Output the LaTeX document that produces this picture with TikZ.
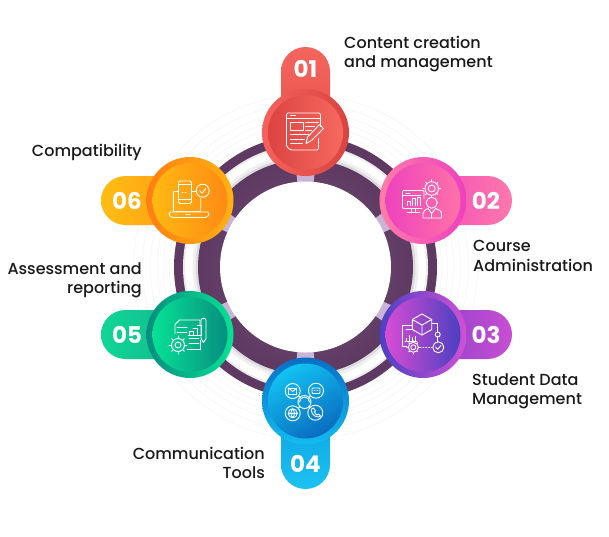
\documentclass[tikz,border=0pt]{standalone}
\usepackage{fontspec}
\setmainfont{Poppins}[UprightFont=* Medium,BoldFont=* Bold]
\usetikzlibrary{calc}
\definecolor{ringdark}{HTML}{5E3A62}
\definecolor{ringmid}{HTML}{76517C}
\definecolor{lav}{HTML}{C9B4D8}
\newcommand{\hx}[2]{\definecolor{#1}{HTML}{#2}}
\hx{ra}{F4655E}\hx{rb}{E8504C}\hx{rc}{F6625B}\hx{rd}{D94442}\hx{re}{DC4341}\hx{rf}{F6695F}
\hx{pa}{F04BB8}\hx{pb}{FF78AC}\hx{pc}{FF7DA8}\hx{pd}{EE3FC0}\hx{pe}{EE42BC}\hx{pf}{FF72A8}
\hx{va}{8A3FCB}\hx{vb}{C84FD2}\hx{vc}{4A40C4}\hx{vd}{D350D4}\hx{ve}{D84CD4}\hx{vf}{4A40C0}
\hx{ba}{0A9CDE}\hx{bb}{1CC2F2}\hx{bc}{0A6EC6}\hx{bd}{12BCF0}\hx{be}{12C2F2}\hx{bf}{0A6CC0}
\hx{ga}{10D696}\hx{gb}{12B58A}\hx{gc}{078E80}\hx{gd}{06E294}\hx{ge}{06E294}\hx{gf}{078E80}
\hx{oa}{FFBD12}\hx{ob}{FF9A14}\hx{oc}{FF7E12}\hx{od}{FFB212}\hx{oe}{FFB912}\hx{of}{FF8A14}
\tikzset{
  disc/.style={circle,minimum size=#1,inner sep=0pt,shade},
  tabbox/.style={rectangle,rounded corners=24.5pt,inner sep=0pt,shade},
  num/.style={text=white,font=\bfseries\fontsize{23}{23}\selectfont,inner sep=0pt},
  lab/.style={text=black!90,font=\fontsize{16}{19.5}\selectfont,inner sep=0pt},
  ico/.style={draw=white,line width=.9pt,line join=round,line cap=round},
  halo/.style={draw=black!5,line width=.4pt}
}
\begin{document}
\begin{tikzpicture}[x=1pt,y=-1pt]
\useasboundingbox (0,0) rectangle (609,536);
\fill[white] (0,0) rectangle (609,536);
\coordinate (c) at (305.5,267);
% faint rings
\foreach \r in {136,142,148,155,163,172}{\draw[halo] (c) circle[radius=\r];}
% rings
\fill[ringdark] (c) circle[radius=131.5];
\fill[black!8] (c) circle[radius=122.5];
\fill[white] (c) circle[radius=120.5];
\fill[black!6] (c) circle[radius=113];
\fill[black!14] (c) circle[radius=110];
\shade[inner color=ringmid,outer color=ringdark] (c) circle[radius=107.5];
\foreach \a in {-90,90,-29.5,29.5,150.5,209.5}{
  \fill[lav] ($(c)+(\a-5.5:85)$) -- ($(c)+(\a-5.5:96)$) arc[start angle=\a-5.5,end angle=\a+5.5,radius=96] -- ($(c)+(\a+5.5:85)$) -- cycle;
}
\fill[white] (c) circle[radius=85.5];
% tabs
\node[tabbox,top color=ra,bottom color=rb,minimum width=49pt,minimum height=90pt] (t1) at (305.5,92) {};
\node[tabbox,left color=pa,right color=pb,minimum width=90pt,minimum height=49pt] (t2) at (467,200.5) {};
\node[tabbox,left color=va,right color=vb,minimum width=90pt,minimum height=49pt] (t3) at (467,334.5) {};
\node[tabbox,top color=ba,bottom color=bb,minimum width=49pt,minimum height=90pt] (t4) at (305.5,444) {};
\node[tabbox,left color=ga,right color=gb,minimum width=90pt,minimum height=49pt] (t5) at (146,334.5) {};
\node[tabbox,left color=oa,right color=ob,minimum width=90pt,minimum height=49pt] (t6) at (146,200.5) {};
% discs
\node[disc=87pt,left color=rc,right color=rd] (d1o) at (305.5,132.5) {};
\node[disc=75pt,left color=re,right color=rf] (d1) at (305.5,132.5) {};
\node[disc=87pt,left color=pc,right color=pd] (d2o) at (423,200.5) {};
\node[disc=75pt,left color=pe,right color=pf] (d2) at (423,200.5) {};
\node[disc=87pt,left color=vc,right color=vd] (d3o) at (423,334.5) {};
\node[disc=75pt,left color=ve,right color=vf] (d3) at (423,334.5) {};
\node[disc=87pt,top color=bc,bottom color=bd] (d4o) at (305.5,401) {};
\node[disc=75pt,top color=be,bottom color=bf,shading angle=30] (d4) at (305.5,401) {};
\node[disc=87pt,left color=gc,right color=gd] (d5o) at (190,334.5) {};
\node[disc=75pt,left color=ge,right color=gf] (d5) at (190,334.5) {};
\node[disc=87pt,left color=oc,right color=od] (d6o) at (190,200.5) {};
\node[disc=75pt,left color=oe,right color=of] (d6) at (190,200.5) {};
% numbers
\node[num] (n1) at (305.5,68.5) {01};
\node[num] (n2) at (486,200.5) {02};
\node[num] (n3) at (486,334.5) {03};
\node[num] (n4) at (305.5,463.5) {04};
\node[num] (n5) at (127,334.5) {05};
\node[num] (n6) at (127,200.5) {06};
% labels
\node[lab,align=left,anchor=west] (l1) at (344,54) {Content creation\\and management};
\node[lab,align=left,anchor=west] (l2) at (473,256) {Course\\Administration};
\node[lab,align=left,anchor=west] (l3) at (472,391) {Student Data\\Management};
\node[lab,align=right,anchor=east] (l4) at (265,463) {Communication\\Tools};
\node[lab,align=right,anchor=east] (l5) at (142,280) {Assessment and\\reporting};
\node[lab,align=right,anchor=east] (l6) at (142,152) {Compatibility};
% icon 1
\begin{scope}[shift={(d1.center)},ico]
\draw[rounded corners=1.5pt] (15,-6) -- (15,-19.5) -- (-19,-19.5) -- (-19,14) -- (-15,17.5) -- (13,17.5) -- (13,6);
\draw (-19,-14) -- (15,-14);
\draw (-15,-17) -- (-10,-17);
\draw (-15,-10) rectangle (-2.5,-2);
\draw (0,-10) -- (13,-10) (0,-6) -- (9,-6) (0,-2) -- (6,-2);
\draw (-15,2) -- (3,2) (-15,6.5) -- (-1,6.5) (-15,11) -- (-3,11);
\draw (14,-8) -- (18,-4) -- (6,8) -- (0.5,11) -- (2,4.5) -- cycle;
\end{scope}
% icon 2
\begin{scope}[shift={(d2.center)},ico]
\draw[rounded corners=1pt] (1,-2) -- (1,-10) -- (-20.5,-10) -- (-20.5,8) -- (-1,8);
\draw (-20.5,-5) -- (-2,-5);
\draw (-17,-7.5) -- (-13,-7.5);
\draw (-16,5) -- (-16,1) -- (-13,1) -- (-13,5) (-11,5) -- (-11,-2) -- (-8,-2) -- (-8,5) (-6,5) -- (-6,-3) -- (-3,-3) -- (-3,5);
\draw (-12,8) -- (-12,12) (-8,8) -- (-8,12) (-16,12) -- (-3,12);
\draw (8.7,-12) circle[radius=3.5];
\draw (8.7,-12) circle[radius=6.8];
\foreach \a in {0,45,...,315}{\draw (8.7,-12)++(\a:6.8) -- ++(\a:2);}
\draw (8.7,2.2) circle[radius=5.5];
\draw (0,17.5) -- (0,13) .. controls (0,10) and (3,9) .. (5,8) -- (8.7,13) -- (12.5,8) .. controls (15,9) and (18.5,10) .. (18.5,13) -- (18.5,17.5) -- cycle;
\draw (8.7,13) -- (8.7,17.5);
\end{scope}
% icon 3
\begin{scope}[shift={(d3.center)},ico]
\draw (-11,-9.5) -- (-20.3,-9.5) -- (-20.3,12) -- (-16,12);
\draw (-17,-5) -- (-10,-5);
\draw (-17,4) -- (-17,7) (-14,1) -- (-14,7) (-11,3) -- (-11,7) (-8,2) -- (-8,7) (-18,7) -- (-6,7);
\draw (-1,-20.5) -- (8.7,-15) -- (8.7,-5) -- (-1,0.5) -- (-10.7,-5) -- (-10.7,-15) -- cycle;
\draw (-10.7,-15) -- (-1,-9.5) -- (8.7,-15) (-1,-9.5) -- (-1,0.5);
\draw (-9.7,12.8) circle[radius=2.5];
\draw (-9.7,12.8) circle[radius=5];
\foreach \a in {0,45,...,315}{\draw (-9.7,12.8)++(\a:5) -- ++(\a:1.5);}
\draw[dotted] (-3,12.8) -- (9,12.8);
\draw (15.3,12.8) circle[radius=5.5];
\draw (12.8,12.8) -- (14.8,14.8) -- (18,10.8);
\draw (9,-11.5) -- (14.7,-11.5) -- (14.7,-2.5) (14.7,2.5) -- (14.7,7.3);
\draw (14.7,0) circle[radius=2.5];
\end{scope}
% icon 4
\begin{scope}[shift={(d4.center)},ico]
\draw (-12.8,-10) circle[radius=7.5];
\draw (10.5,-10.3) circle[radius=7.5];
\draw (-12.8,12.3) circle[radius=7.5];
\draw (9.8,11.7) circle[radius=7.5];
\draw (-1,1) circle[radius=6.5];
\draw (-6,1) arc[start angle=180,end angle=360,radius=5];
\draw (-16.8,-13) rectangle (-8.8,-7);
\draw (-16.8,-13) -- (-12.8,-9.5) -- (-8.8,-13);
\draw[rounded corners=1pt] (6.5,-13) rectangle (14.5,-7.5);
\draw[dotted] (8.5,-10.3) -- (13,-10.3);
\draw (-12.8,12.3) circle[radius=4.5];
\draw (-17.3,12.3) -- (-8.3,12.3) (-12.8,7.8) .. controls (-15,10) and (-15,14.6) .. (-12.8,16.8) (-12.8,7.8) .. controls (-10.6,10) and (-10.6,14.6) .. (-12.8,16.8);
\draw (6,8) -- (8,7) -- (10,10) -- (9,11) .. controls (10,13) and (11,14) .. (12,14) -- (13,13) -- (15,15) -- (13,16) .. controls (9,16) and (5,12) .. (6,8);
\draw (-7,-5) -- (-5.5,-3.5) (5,-5) -- (3.5,-3.5) (-7,7) -- (-5.5,5.5) (5,6.5) -- (3.5,5);
\end{scope}
% icon 5
\begin{scope}[shift={(d5.center)},ico]
\draw (-15,-1) -- (-15,-10) -- (-10.5,-14.5) -- (10,-14.5) -- (10,-9);
\draw (10,6) -- (10,15) -- (-3,15);
\draw (-13,-7) -- (-3,-7) (-13,-2.5) -- (-3,-2.5);
\draw (-1,1) -- (-1,-3) -- (3,-3) -- (3,1) (3,-6) -- (7,-6) -- (7,1) (7,-9) -- (11,-9) -- (11,1) (-2,1) -- (11,1);
\draw (-1,4) -- (9,4) (-1,9) -- (9,9);
\draw (11,-14) .. controls (11,-17) and (16,-17) .. (16,-14) -- (16,4) -- (13.5,8) -- (11,4) -- cycle;
\draw (-12,10.5) circle[radius=3];
\draw (-12,10.5) circle[radius=6.5];
\foreach \a in {0,45,...,315}{\draw (-12,10.5)++(\a:6.5) -- ++(\a:2.5);}
\end{scope}
% icon 6
\begin{scope}[shift={(d6.center)},ico]
\draw[rounded corners=1pt] (-11.5,-9) -- (-16.7,-9) -- (-16.7,11) -- (10.7,11) -- (10.7,-2);
\draw[rounded corners=1.5pt] (-21,11.5) -- (19,11.5) -- (19,15) -- (16,17) -- (-18,17) -- (-21,15) -- cycle;
\draw[rounded corners=1.5pt] (-11.5,-19.5) rectangle (1.5,3);
\draw (-11.5,-16) -- (1.5,-16) (-11.5,-1) -- (1.5,-1);
\draw[dotted,line width=1pt] (-8,-8) -- (-2,-8);
\draw (12.7,-9.8) circle[radius=6.5];
\draw (9.7,-9.8) -- (12.2,-7.3) -- (15.7,-12);
\draw (1.5,-9) -- (6.2,-9);
\draw (-4,14.2) -- (0,14.2);
\end{scope}
\end{tikzpicture}
\end{document}
